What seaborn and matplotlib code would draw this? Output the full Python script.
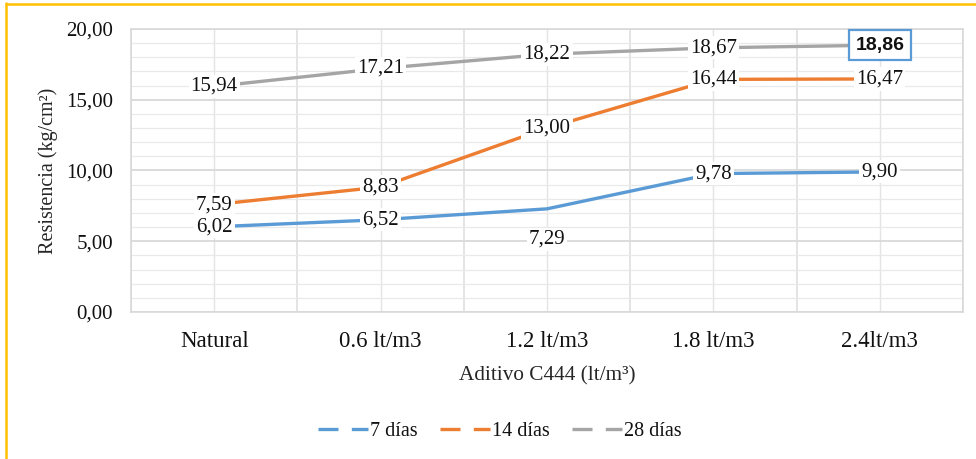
import matplotlib
matplotlib.use("Agg")
import matplotlib.pyplot as plt
from matplotlib.lines import Line2D
from matplotlib.ticker import MultipleLocator, FixedLocator
import seaborn as sns
import pandas as pd

# Compressive strength by additive dose and curing age
dosis = ["Natural", "0.6 lt/m3", "1.2 lt/m3", "1.8 lt/m3", "2.4lt/m3"]
edades = ["7 días", "14 días", "28 días"]
r7 = [6.02, 6.52, 7.29, 9.78, 9.90]
r14 = [7.59, 8.83, 13.00, 16.44, 16.47]
r28 = [15.94, 17.21, 18.22, 18.67, 18.86]
colores = ["#5B9BD5", "#ED7D31", "#A5A5A5"]

df = pd.DataFrame({
    "Dosis": dosis * 3,
    "Resistencia": r7 + r14 + r28,
    "Edad": [e for e in edades for _ in dosis],
})

sns.set_theme(style="white")
plt.rcParams["font.family"] = ["Liberation Serif", "DejaVu Serif"]
plt.rcParams["text.color"] = "#111111"

fig = plt.figure(figsize=(9.76, 4.59), dpi=100)
ax = fig.add_axes([0.1342, 0.3203, 0.8525, 0.6165])

sns.lineplot(data=df, x="Dosis", y="Resistencia", hue="Edad",
             palette=colores, hue_order=edades, sort=False,
             linewidth=2.4, legend=False, ax=ax, zorder=3)

ax.set_xlim(-0.5, len(dosis) - 0.5)
ax.set_ylim(0, 20)

# gridlines: major every 5, minor every 1; vertical at centres and boundaries
ax.yaxis.set_major_locator(MultipleLocator(5))
ax.yaxis.set_minor_locator(MultipleLocator(1))
ax.xaxis.set_minor_locator(FixedLocator([i - 0.5 for i in range(len(dosis) + 1)]))
ax.grid(which="major", axis="y", color="#D9D9D9", linewidth=1.3, zorder=0)
ax.grid(which="minor", axis="y", color="#E9E9E9", linewidth=0.9, zorder=0)
ax.grid(which="major", axis="x", color="#E4E4E4", linewidth=1.0, zorder=0)
ax.grid(which="minor", axis="x", color="#DCDCDC", linewidth=1.1, zorder=0)
for s in ax.spines.values():
    s.set_color("#D9D9D9")
    s.set_linewidth(1.2)
ax.tick_params(which="both", length=0, labelcolor="#111111")
ax.tick_params(axis="y", pad=13, labelsize=15)
ax.tick_params(axis="x", pad=14, labelsize=16.5)
ax.set_yticks([0, 5, 10, 15, 20])
ax.set_yticklabels([f"{v:.2f}".replace(".", ",") for v in [0, 5, 10, 15, 20]])

ax.set_xlabel("Aditivo C444 (lt/m³)", fontsize=15.3, labelpad=10)
ax.set_ylabel("Resistencia (kg/cm²)", fontsize=14.5)
ax.yaxis.set_label_coords(-0.088, 0.5)

# data labels with white background
series = [r7, r14, r28]
for si, vals in enumerate(series):
    for xi, v in enumerate(vals):
        txt = f"{v:.2f}".replace(".", ",")
        dy = 0
        if si == 0 and xi == 2:
            dy = -22
        if si == 2 and xi == len(vals) - 1:
            ax.annotate(txt, (xi, v), xytext=(0, 0), textcoords="offset points",
                        ha="center", va="center", fontsize=14, fontweight="bold",
                        family=["Liberation Sans", "DejaVu Sans"], zorder=6,
                        bbox=dict(boxstyle="square,pad=0.35", fc="white",
                                  ec="#5B9BD5", lw=1.6))
        else:
            ax.annotate(txt, (xi, v), xytext=(0, dy), textcoords="offset points",
                        ha="center", va="center", fontsize=15, zorder=5,
                        bbox=dict(boxstyle="square,pad=0.1", fc="white",
                                  ec="none"))

handles = [Line2D([0], [0], color=c, lw=2.4, dashes=(6, 4)) for c in colores]
fig.legend(handles, edades, loc="center", bbox_to_anchor=(0.512, 0.061),
           ncol=3, frameon=False, fontsize=14.5, handlelength=2.5,
           handletextpad=0.1, columnspacing=1.1)

# yellow frame lines on top and left
fig.add_artist(Line2D([0.0065, 0.0065], [0, 0.993], color="#FFC000", lw=1.8,
                      transform=fig.transFigure))
fig.add_artist(Line2D([0.0065, 1], [0.991, 0.991], color="#FFC000", lw=1.8,
                      transform=fig.transFigure))

fig.savefig("out.png", dpi=100, facecolor="white")
